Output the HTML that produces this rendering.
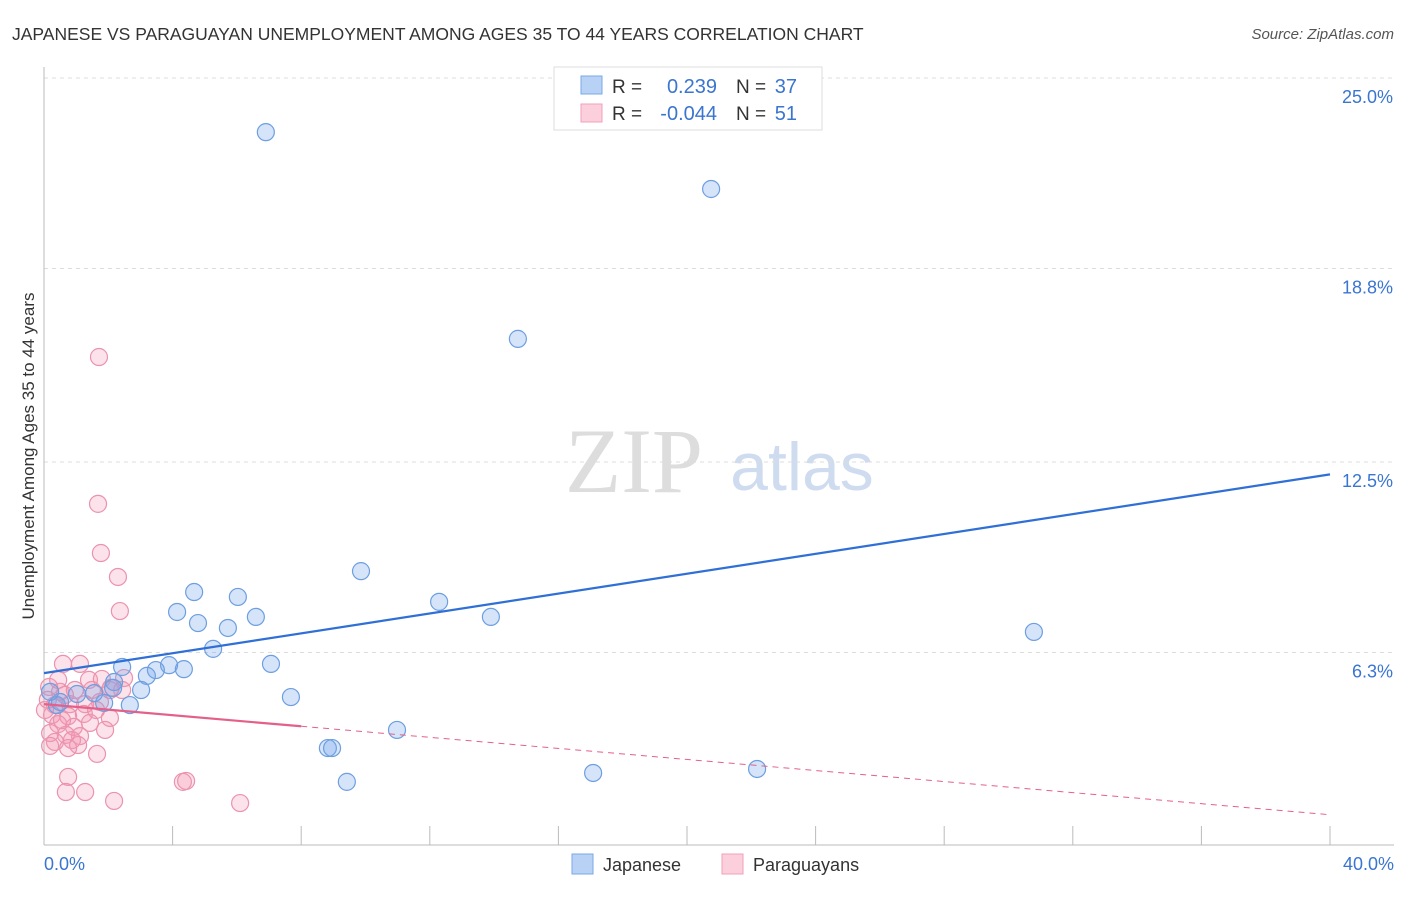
<!DOCTYPE html>
<html><head><meta charset="utf-8"><style>
body{margin:0;background:#fff;font-family:"Liberation Sans",sans-serif}
svg text{font-family:"Liberation Sans",sans-serif}
</style></head><body>
<svg id="c" width="1406" height="892">
<text x="12" y="40" font-size="17.5" fill="#333">JAPANESE VS PARAGUAYAN UNEMPLOYMENT AMONG AGES 35 TO 44 YEARS CORRELATION CHART</text>
<text x="1394" y="39" font-size="15" fill="#555" text-anchor="end" font-style="italic">Source: ZipAtlas.com</text>
<text x="634" y="492" font-size="92" fill="#ddd" font-family="Liberation Serif" text-anchor="middle" style="font-family:'Liberation Serif',serif">ZIP</text>
<text x="802" y="490" font-size="68" fill="#cfdcf0" text-anchor="middle">atlas</text>
<text transform="translate(34,456) rotate(-90)" font-size="17" fill="#333" text-anchor="middle">Unemployment Among Ages 35 to 44 years</text>
<g id="grid"></g><g id="axes"></g><g id="pts"></g><g id="trend"></g>
<g>
<rect x="554" y="67" width="268" height="63" fill="#fff" stroke="#ddd"/>
<rect x="581" y="76" width="21" height="18" fill="#b8d2f5" stroke="#7aa8e8"/>
<rect x="581" y="104" width="21" height="18" fill="#fbd0dc" stroke="#f0a0b8"/>
<text x="612" y="93" font-size="19" fill="#333">R =</text>
<text x="717" y="93" font-size="20" fill="#3a75d0" text-anchor="end">0.239</text>
<text x="736" y="93" font-size="19" fill="#333">N =</text>
<text x="797" y="93" font-size="20" fill="#3a75d0" text-anchor="end">37</text>
<text x="612" y="120" font-size="19" fill="#333">R =</text>
<text x="717" y="120" font-size="20" fill="#3a75d0" text-anchor="end">-0.044</text>
<text x="736" y="120" font-size="19" fill="#333">N =</text>
<text x="797" y="120" font-size="20" fill="#3a75d0" text-anchor="end">51</text>
</g>
<g>
<rect x="572" y="854" width="21" height="20" fill="#b8d2f5" stroke="#7aa8e8"/>
<text x="603" y="871" font-size="18" fill="#333">Japanese</text>
<rect x="722" y="854" width="21" height="20" fill="#fbd0dc" stroke="#f0a0b8"/>
<text x="753" y="871" font-size="18" fill="#333">Paraguayans</text>
</g>
</svg>
<script>
const yTicks=[25.0,18.8,12.5,6.3];
const yTickLabels=["25.0%","18.8%","12.5%","6.3%"];
const xTickLabels=["0.0%","40.0%"];
const japX=[6.9,20.75,14.74,9.86,4.67,6.03,12.29,4.14,6.59,13.9,4.79,5.72,30.79,5.26,7.06,2.43,3.89,3.48,4.35,3.2,2.18,3.02,2.15,1.56,1.03,7.68,1.87,2.67,0.4,0.5,10.98,8.83,8.96,9.42,17.08,22.18,0.19];
const japY=[23.27,21.42,16.54,8.98,8.30,8.14,7.98,7.65,7.49,7.49,7.29,7.13,7.0,6.45,5.96,5.86,5.92,5.76,5.79,5.57,5.37,5.11,5.18,5.01,4.98,4.88,4.69,4.62,4.62,4.72,3.81,3.22,3.22,2.12,2.41,2.54,5.05];
const parX=[1.71,1.68,1.77,2.30,2.36,0.59,1.12,0.16,0.5,1.49,2.43,2.08,0.65,1.40,1.80,2.49,0.34,0.81,1.28,1.74,0.25,0.75,1.24,2.05,0.44,0.93,1.43,1.90,0.19,0.68,1.12,0.34,0.87,1.06,0.75,0.19,1.65,0.75,4.42,4.32,0.68,1.28,2.18,6.10,0.03,0.12,0.44,2.05,1.62,0.96,0.56];
const parY=[15.95,11.17,9.57,8.79,7.68,5.96,5.96,5.21,5.05,5.11,5.11,5.18,4.95,5.44,5.47,5.50,4.62,4.65,4.65,4.72,4.30,4.26,4.33,4.20,4.00,3.91,4.04,3.81,3.71,3.65,3.61,3.42,3.48,3.32,3.22,3.29,3.03,2.28,2.15,2.12,1.79,1.79,1.50,1.43,4.46,4.79,5.44,5.11,4.46,5.11,4.13];
const japTrend=[5.66,12.13];
const parTrend=[4.65,-0.09];
const X=v=>44+v/40*1286, Y=v=>847-v*30.72;
const NS="http://www.w3.org/2000/svg";
function mk(p,t,a){const e=document.createElementNS(NS,t);for(const k in a)e.setAttribute(k,a[k]);p.appendChild(e);return e;}
const g=document.getElementById('grid');
yTicks.forEach((v,i)=>{
 const l=mk(g,'line',{x1:44,x2:1394,y1:Y(v)-1,y2:Y(v)-1,stroke:'#ddd','stroke-dasharray':'4,4'});
 
 
 const t=mk(g,'text',{x:1393,y:Y(v)+24,'font-size':18,fill:'#3a75d0','text-anchor':'end'});
 t.textContent=yTickLabels[i];
 
 
});
const ax=document.getElementById('axes');
let a1=mk(ax,'line',{x1:44,x2:44,y1:67,y2:845,stroke:'#bbb'});


let a2=mk(ax,'line',{x1:44,x2:1394,y1:845,y2:845,stroke:'#bbb'});


for(let i=0;i<=10;i++){const tk=mk(ax,'line',{x1:X(i*4),x2:X(i*4),y1:826,y2:845,stroke:'#bbb'});
 
 }
[[0,'start',44],[40,'end',1394]].forEach((d,i)=>{const t=mk(ax,'text',{x:d[2],y:870,'font-size':18,fill:'#3a75d0','text-anchor':d[1]});t.textContent=xTickLabels[i];
 
 });
const P=document.getElementById('pts');
parX.forEach((x,i)=>{const c=mk(P,'circle',{cx:X(x),cy:Y(parY[i]),r:8.5,fill:'rgba(244,150,180,0.28)',stroke:'#eb93ae','stroke-width':1.2});
 
 });
japX.forEach((x,i)=>{const c=mk(P,'circle',{cx:X(x),cy:Y(japY[i]),r:8.5,fill:'rgba(120,165,235,0.3)',stroke:'#6d9fe0','stroke-width':1.2});
 
 });
const T=document.getElementById('trend');
let l1=mk(T,'line',{x1:X(0),y1:Y(japTrend[0]),x2:X(40),y2:Y(japTrend[1]),stroke:'#2f6fd6','stroke-width':2.2});


const pf=x=>parTrend[0]+parTrend[1]*x;
let l2=mk(T,'line',{x1:X(0),y1:Y(pf(0)),x2:X(8),y2:Y(pf(8)),stroke:'#e4608a','stroke-width':2.2});


let l3=mk(T,'line',{x1:X(8),y1:Y(pf(8)),x2:X(40),y2:Y(pf(40)),stroke:'#e4608a','stroke-width':1,'stroke-dasharray':'6,5'});


</script>
</body></html>
